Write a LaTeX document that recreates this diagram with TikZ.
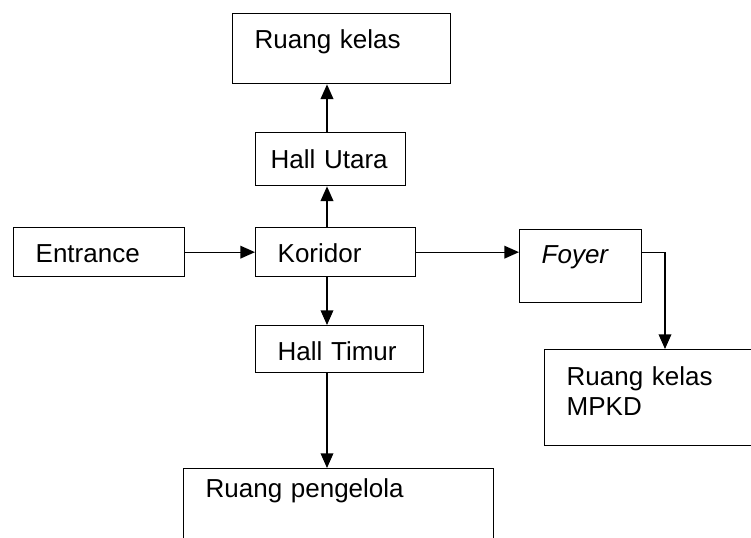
\documentclass[tikz,border=0pt]{standalone}
\usepackage{fontspec}
\setmainfont{Liberation Sans}
\usetikzlibrary{arrows.meta}

\tikzset{every picture/.style={line width=1pt}}
\tikzset{
room/.style={draw, anchor=north west, inner xsep=16.5pt, inner ysep=0pt, align=left,
  font=\fontsize{19.5}{22.5}\selectfont},
flow/.style={-{Triangle[length=11pt,width=9.5pt]}}}

\begin{document}
\begin{tikzpicture}[x=0.75pt,y=0.75pt,yscale=-1,xscale=1]
\useasboundingbox (0,0) rectangle (751,537);

%Shape: Rectangle [id:kelas]
\node [room, text width=130.5pt, text height=26.25pt, text depth=26.25pt] (kelas) at (232,13) {Ruang kelas};
%Shape: Rectangle [id:utara]
\node [room, inner xsep=11.25pt, text width=90pt, text height=27pt, text depth=12.75pt] (utara) at (255,132) {Hall Utara};
%Shape: Rectangle [id:entrance]
\node [room, text width=95.25pt, text height=26.25pt, text depth=10.5pt] (entrance) at (13,227) {Entrance};
%Shape: Rectangle [id:koridor]
\node [room, text width=87pt, text height=26.25pt, text depth=10.5pt] (koridor) at (255,227) {Koridor};
%Shape: Rectangle [id:foyer]
\node [room, text width=58.5pt, text height=25.5pt, text depth=29.25pt] (foyer) at (519,229) {\textit{Foyer}};
%Shape: Rectangle [id:timur]
\node [room, text width=93pt, text height=26.25pt, text depth=9pt] (timur) at (255,325) {Hall Timur};
%Shape: Rectangle [id:mpkd]
\node [room, text width=136.5pt, text height=27pt, text depth=45pt] (mpkd) at (544,349) {Ruang kelas\\MPKD};
%Shape: Rectangle [id:pengelola]
\node [room, text width=199.5pt, text height=21.75pt, text depth=52.5pt] (pengelola) at (183,468) {Ruang pengelola};

\coordinate (spine) at (327,0);
\coordinate (drop) at (665,0);

%Straight Lines
\draw [flow] (entrance.east) -- (koridor.west);
\draw [flow] (spine |- koridor.north) -- (spine |- utara.south);
\draw [flow] (spine |- utara.north) -- (spine |- kelas.south);
\draw [flow] (spine |- koridor.south) -- (spine |- timur.north);
\draw [flow] (spine |- timur.south) -- (spine |- pengelola.north);
\draw [flow] (koridor.east) -- (koridor.east -| foyer.west);
%Elbow Line
\draw [flow] (koridor.east -| foyer.east) -| (drop |- mpkd.north);

\end{tikzpicture}
\end{document}
